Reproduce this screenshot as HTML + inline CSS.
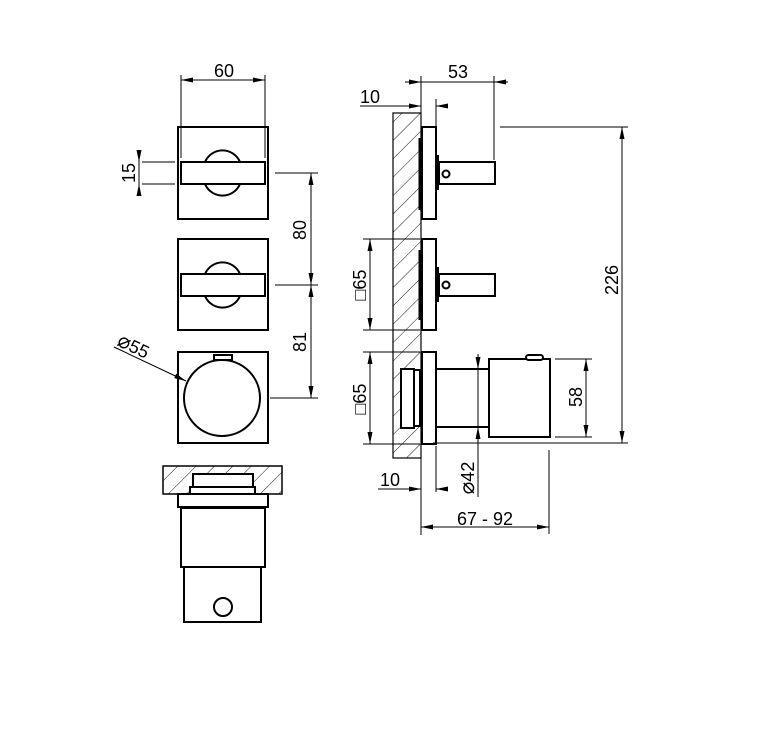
<!DOCTYPE html>
<html><head><meta charset="utf-8"><style>
html,body{margin:0;padding:0;background:#fff}
svg{display:block}
text{font-family:"Liberation Sans",Arial,sans-serif;font-size:18px;fill:#000}
</style></head><body>
<svg width="763" height="734" viewBox="0 0 763 734" xmlns="http://www.w3.org/2000/svg">
<defs>
<pattern id="h" patternUnits="userSpaceOnUse" width="13" height="13" patternTransform="rotate(45)">
<line x1="0" y1="0" x2="0" y2="13" stroke="#000" stroke-width="0.9"/>
</pattern>
<marker id="a" viewBox="0 0 12 5" refX="12" refY="2.5" markerWidth="12" markerHeight="5" orient="auto-start-reverse" markerUnits="userSpaceOnUse">
<path d="M0,0 L12,2.5 L0,5 z" fill="#000"/>
</marker>
</defs>
<g fill="none" stroke="#000">
<g stroke-width="2">
<rect x="178" y="127" width="90" height="92"/>
<path d="M205,162 A19,19 0 0 1 240,162 M205,184 A19,19 0 0 0 240,184"/>
<rect x="181" y="162" width="84" height="22" fill="#fff"/>
<rect x="178" y="239" width="90" height="91"/>
<path d="M205,274 A19,19 0 0 1 240,274 M205,296 A19,19 0 0 0 240,296"/>
<rect x="181" y="274" width="84" height="22" fill="#fff"/>
<rect x="178" y="352" width="90" height="91"/>
<rect x="214" y="355" width="18" height="5"/>
<circle cx="222" cy="398" r="38" fill="#fff"/>
</g>
<g stroke-width="1">
<line x1="181" y1="75" x2="181" y2="158"/>
<line x1="265" y1="75" x2="265" y2="158"/>
<line x1="181" y1="80" x2="265" y2="80" marker-start="url(#a)" marker-end="url(#a)"/>
<line x1="142" y1="162" x2="175" y2="162"/>
<line x1="142" y1="184" x2="175" y2="184"/>
<line x1="139" y1="150" x2="139" y2="162" marker-end="url(#a)"/>
<line x1="139" y1="196" x2="139" y2="184" marker-end="url(#a)"/>
<line x1="139" y1="162" x2="139" y2="184"/>
<line x1="275" y1="173" x2="318" y2="173"/>
<line x1="275" y1="285" x2="318" y2="285"/>
<line x1="270" y1="398" x2="318" y2="398"/>
<line x1="311" y1="173" x2="311" y2="285" marker-start="url(#a)" marker-end="url(#a)"/>
<line x1="311" y1="285" x2="311" y2="398" marker-start="url(#a)" marker-end="url(#a)"/>
<line x1="114" y1="347" x2="186" y2="381" marker-end="url(#a)"/>
</g>
<rect x="163" y="466" width="119" height="28" fill="url(#h)" stroke-width="1.5"/>
<g stroke-width="2" fill="#fff">
<rect x="193" y="474" width="60" height="13"/>
<rect x="190" y="487" width="65" height="7"/>
<rect x="178" y="494" width="90" height="13"/>
<rect x="181" y="508" width="84" height="59"/>
<rect x="184" y="567" width="77" height="55"/>
<circle cx="223" cy="607" r="9"/>
</g>

<rect x="393" y="113" width="28" height="345" fill="url(#h)" stroke-width="1.2"/>
<g stroke-width="2" fill="#fff">
<rect x="422" y="127" width="14" height="92"/>
<line x1="420" y1="138" x2="420" y2="210" stroke-width="3"/>
<line x1="437.5" y1="155" x2="437.5" y2="190" stroke-width="3"/>
<rect x="439" y="162" width="56" height="22"/>
<circle cx="446" cy="174" r="3.5"/>
<rect x="422" y="239" width="14" height="91"/>
<line x1="420" y1="250" x2="420" y2="320" stroke-width="3"/>
<line x1="437.5" y1="267" x2="437.5" y2="302" stroke-width="3"/>
<rect x="439" y="274" width="56" height="22"/>
<circle cx="446" cy="285" r="3.5"/>
<rect x="401" y="369" width="13" height="59"/>
<rect x="414" y="370" width="6" height="56"/>
<rect x="422" y="352" width="14" height="92"/>
<rect x="436" y="369" width="53" height="58"/>
<rect x="489" y="359" width="61" height="78"/>
<rect x="526" y="355" width="17" height="5" rx="2.5"/>
</g>
<g stroke-width="1">
<line x1="421" y1="76" x2="421" y2="113"/>
<line x1="494" y1="76" x2="494" y2="160"/>
<line x1="405" y1="82" x2="421" y2="82" marker-end="url(#a)"/>
<line x1="421" y1="82" x2="494" y2="82"/>
<line x1="508" y1="82" x2="494" y2="82" marker-end="url(#a)"/>
<line x1="436" y1="99" x2="436" y2="127"/>
<line x1="360" y1="106" x2="421" y2="106" marker-end="url(#a)"/>
<line x1="448" y1="106" x2="436" y2="106" marker-end="url(#a)"/>
<line x1="500" y1="127" x2="628" y2="127"/>
<line x1="433" y1="443" x2="628" y2="443"/>
<line x1="622" y1="127" x2="622" y2="443" marker-start="url(#a)" marker-end="url(#a)"/>
<line x1="555" y1="359" x2="592" y2="359"/>
<line x1="555" y1="437" x2="592" y2="437"/>
<line x1="586" y1="359" x2="586" y2="437" marker-start="url(#a)" marker-end="url(#a)"/>
<line x1="363" y1="239" x2="420" y2="239"/>
<line x1="363" y1="330" x2="420" y2="330"/>
<line x1="370" y1="239" x2="370" y2="330" marker-start="url(#a)" marker-end="url(#a)"/>
<line x1="363" y1="352" x2="420" y2="352"/>
<line x1="363" y1="444" x2="420" y2="444"/>
<line x1="370" y1="352" x2="370" y2="444" marker-start="url(#a)" marker-end="url(#a)"/>
<line x1="478" y1="354" x2="478" y2="369" marker-end="url(#a)"/>
<line x1="478" y1="369" x2="478" y2="427"/>
<line x1="478" y1="497" x2="478" y2="427" marker-end="url(#a)"/>
<line x1="421" y1="458" x2="421" y2="535"/>
<line x1="436" y1="446" x2="436" y2="492"/>
<line x1="378" y1="489" x2="421" y2="489" marker-end="url(#a)"/>
<line x1="448" y1="489" x2="436" y2="489" marker-end="url(#a)"/>
<line x1="549" y1="450" x2="549" y2="534"/>
<line x1="421" y1="527" x2="549" y2="527" marker-start="url(#a)" marker-end="url(#a)"/>
</g>
</g>
<text x="224" y="77" text-anchor="middle">60</text>
<text transform="translate(135,173) rotate(-90)" text-anchor="middle">15</text>
<text transform="translate(306,230) rotate(-90)" text-anchor="middle">80</text>
<text transform="translate(306,342) rotate(-90)" text-anchor="middle">81</text>
<text transform="translate(116,345) rotate(25)"><tspan font-size="21">⌀</tspan>55</text>
<text x="458" y="78" text-anchor="middle">53</text>
<text x="370" y="103" text-anchor="middle">10</text>
<text transform="translate(618,280) rotate(-90)" text-anchor="middle">226</text>
<text transform="translate(582,397) rotate(-90)" text-anchor="middle">58</text>
<text transform="translate(366,285) rotate(-90)" text-anchor="middle">□65</text>
<text transform="translate(366,399) rotate(-90)" text-anchor="middle">□65</text>
<text transform="translate(474,478) rotate(-90)" text-anchor="middle"><tspan font-size="21">⌀</tspan>42</text>
<text x="390" y="486" text-anchor="middle">10</text>
<text x="485" y="525" text-anchor="middle">67 - 92</text>
</svg>
</body></html>
